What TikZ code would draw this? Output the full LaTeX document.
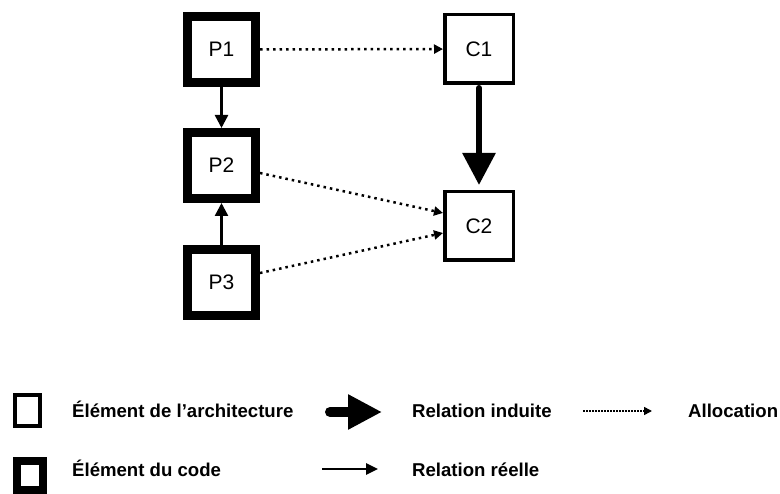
\documentclass[tikz,border=0pt]{standalone}
\usepackage{fontspec}
\setmainfont{Liberation Sans}
\usetikzlibrary{arrows.meta}

\begin{document}
\begin{tikzpicture}[x=1pt,y=-1pt,
    code/.style={draw,line width=9pt,minimum width=68pt,minimum height=66pt,inner sep=0pt,font=\fontsize{21}{24}\selectfont},
    archi/.style={draw,line width=3.5pt,minimum size=68.5pt,inner sep=0pt,font=\fontsize{21}{24}\selectfont},
    real/.style={line width=2.5pt,-{Triangle[length=13pt,width=13pt]}},
    induced/.style={line width=6pt,line cap=round,-{Triangle[length=32pt,width=32pt]}},
    alloc/.style={line width=2.5pt,dash pattern=on 2.5pt off 4pt,-{Triangle[length=9pt,width=9pt]}},
    legend/.style={anchor=base west,inner sep=0pt,font=\fontsize{18.6}{22}\selectfont\bfseries}]
    \useasboundingbox (0,0) rectangle (780,494);
    % diagram
    \node[code] (p1) at (221.5,49.5) {P1};
    \node[code] (p2) at (221.5,165.5) {P2};
    \node[code] (p3) at (221.5,282.5) {P3};
    \node[archi] (c1) at (479,49) {C1};
    \node[archi] (c2) at (479,226) {C2};
    \draw [real] (p1) to (p2);
    \draw [real] (p3) to (p2);
    \draw [induced,shorten <=3pt,shorten >=5pt] (c1) to (c2);
    \draw [alloc] (p1) to (c1);
    \draw [alloc] ([yshift=-7.5pt]p2.east) to ([yshift=13pt]c2.west);
    \draw [alloc] ([yshift=9.5pt]p3.east) to ([yshift=-7pt]c2.west);
    % legend
    \node[draw,line width=4pt,minimum width=25pt,minimum height=31pt,inner sep=0pt] (la) at (27.5,410.5) {};
    \node[draw,line width=8pt,minimum width=26pt,minimum height=29pt,inner sep=0pt] (lc) at (30,475.5) {};
    \node[legend] (ta) at (72,418) {Élément de l’architecture};
    \node[legend] (tc) at (72,477) {Élément du code};
    \node[legend] (ti) at (412,418) {Relation induite};
    \node[legend] (tr) at (412,477) {Relation réelle};
    \node[legend] (tl) at (688,418) {Allocation};
    \coordinate (i1) at (330,412);
    \coordinate (i2) at (382,412);
    \coordinate (r1) at (322,469);
    \coordinate (r2) at (378,469);
    \coordinate (l1) at (583,411);
    \coordinate (l2) at (652,411);
    \draw [line width=10pt,line cap=round,-{Triangle[length=34pt,width=33pt]}] (i1) to (i2);
    \draw [line width=2.5pt,-{Triangle[length=12pt,width=11pt]}] (r1) to (r2);
    \draw [line width=1.5pt,dash pattern=on 1.5pt off 1.5pt,-{Triangle[length=8pt,width=8pt]}] (l1) to (l2);
  \end{tikzpicture}
\end{document}
